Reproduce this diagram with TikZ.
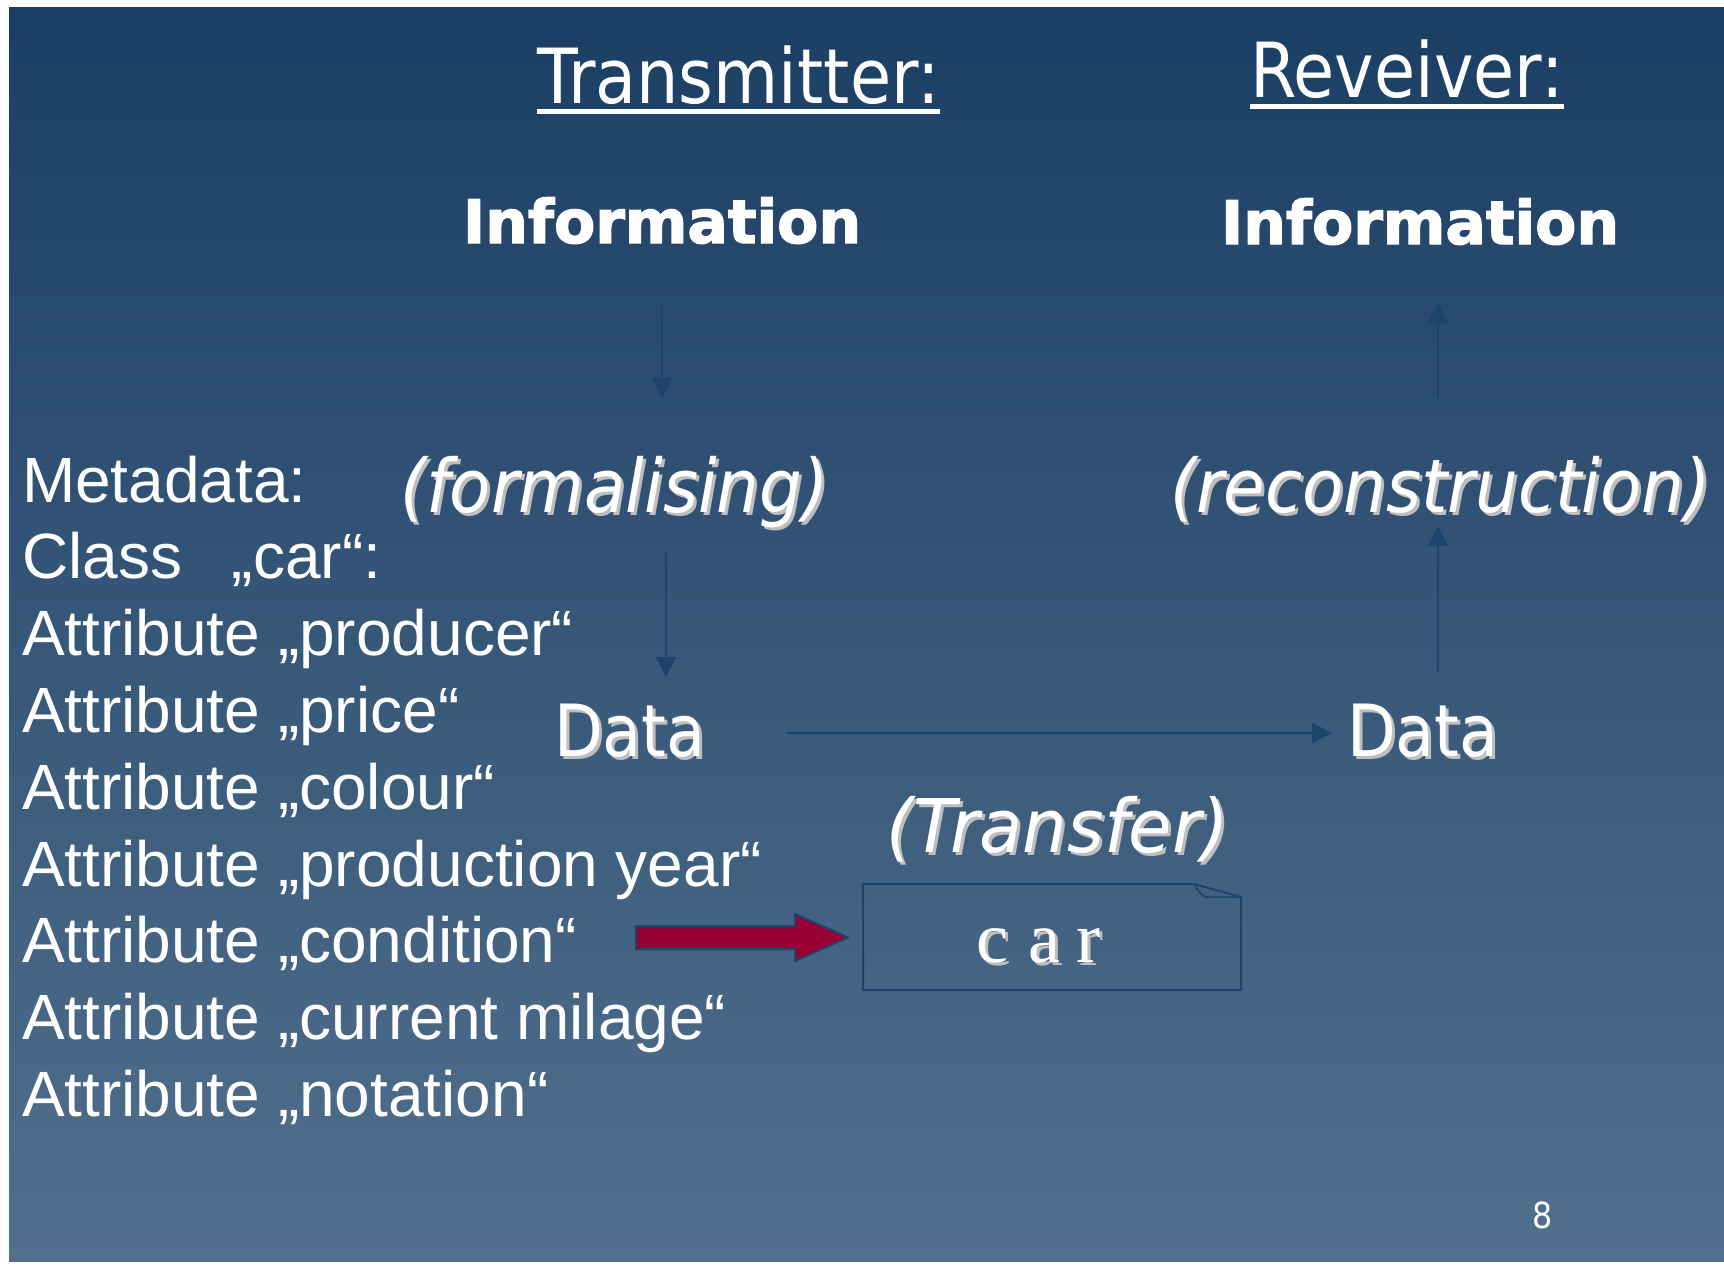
\documentclass[tikz,border=0pt]{standalone}
\usepackage{fontspec}
\setmainfont{Liberation Sans}
\newfontfamily\tahfont[FakeStretch=0.88]{DejaVu Sans}
\newfontfamily\tahitfont[FakeStretch=0.91]{DejaVu Sans}
\newfontfamily\tahwidefont[FakeStretch=0.95]{DejaVu Sans}
\newfontfamily\infofont{DejaVuSans-Bold.ttf}[FakeBold=2.2]
\newfontfamily\serfont{Liberation Serif}
\usetikzlibrary{arrows.meta}
\definecolor{bgtop}{RGB}{27,62,100}
\definecolor{bgbot}{RGB}{82,112,141}
\definecolor{linkblue}{RGB}{28,68,108}
\definecolor{wine}{RGB}{153,0,51}
\definecolor{shadowgray}{RGB}{190,190,190}

\begin{document}
\begin{tikzpicture}[x=1pt,y=-1pt,
  every node/.style={inner sep=0pt, outer sep=0pt},
  heading/.style={text=white, font=\tahfont\fontsize{76}{80}\selectfont, anchor=base west},
  infotext/.style={text=white, font=\infofont\fontsize{60}{66}\selectfont, anchor=base},
  stagetext/.style={font=\tahitfont\itshape\fontsize{74}{80}\selectfont, anchor=base west},
  widestage/.style={font=\tahwidefont\itshape\fontsize{74}{80}\selectfont, anchor=base west},
  datatext/.style={font=\tahfont\fontsize{72}{80}\selectfont, anchor=base west},
  cartext/.style={font=\serfont\fontsize{72}{80}\selectfont, anchor=base west},
  lighttext/.style={text=white},
  shadowtext/.style={text=shadowgray},
  listtext/.style={text=white, font=\fontsize{64}{76}\selectfont, anchor=base west},
  flow/.style={draw=linkblue, line width=2pt, -{Triangle[length=20pt,width=20pt]}},
]
% canvas and slide background
\useasboundingbox (0,0) rectangle (1724,1266);
\fill[white] (0,0) rectangle (1724,1266);
\shade[top color=bgtop, bottom color=bgbot] (9,7) rectangle (1724,1261);

% column headings
\node[heading] (tx) at (537,103) {Transmitter:};
\fill[white] ([yshift=-6pt]tx.base west) rectangle ([yshift=-11pt]tx.base east);
\node[heading] (rx) at (1250,97) {Reveiver:};
\fill[white] ([yshift=-7pt]rx.base west) rectangle ([yshift=-12pt]rx.base east);

% information level
\node[infotext] (infoL) at (662,243) {Information};
\node[infotext] (infoR) at (1420,244) {Information};

% processing steps
\node[stagetext, shadowtext] (formS) at (403,515) {(formalising)};
\node[stagetext, lighttext] (form) at (400,512) {(formalising)};
\node[stagetext, shadowtext] (reconS) at (1173,515) {(reconstruction)};
\node[stagetext, lighttext] (recon) at (1170,512) {(reconstruction)};
\node[widestage, shadowtext] (transS) at (889,855) {(Transfer)};
\node[widestage, lighttext] (trans) at (886,852) {(Transfer)};

% data level
\node[datatext, shadowtext] (dataLS) at (557,759) {Data};
\node[datatext, lighttext] (dataL) at (554,756) {Data};
\node[datatext, shadowtext] (dataRS) at (1350,759) {Data};
\node[datatext, lighttext] (dataR) at (1347,756) {Data};

% metadata listing
\foreach \txt [count=\i from 0] in {Metadata:, Class\hspace{50pt}„car“:, Attribute „producer“, Attribute „price“, Attribute „colour“, Attribute „production year“, Attribute „condition“, Attribute „current milage“, Attribute „notation“}
  \node[listtext] (meta\i) at (22,{502+76.8*\i}) {\txt};

% flow arrows
\coordinate (a1s) at (662,302); \coordinate (a1e) at (662,398);
\coordinate (a2s) at (666,552); \coordinate (a2e) at (666,677);
\coordinate (a3s) at (787,733); \coordinate (a3e) at (1332,733);
\coordinate (a4s) at (1438,671); \coordinate (a4e) at (1438,526);
\coordinate (a5s) at (1438,398); \coordinate (a5e) at (1438,303);
\draw[flow] (a1s) -- (a1e);
\draw[flow] (a2s) -- (a2e);
\draw[flow] (a3s) -- (a3e);
\draw[flow] (a4s) -- (a4e);
\draw[flow] (a5s) -- (a5e);

% document box with folded corner
\draw[linkblue, line width=2pt, line join=miter]
  (863,884) -- (1194,884) -- (1241,897) -- (1241,990) -- (863,990) -- cycle;
\draw[linkblue, line width=1.5pt]
  (1194,884) .. controls (1199,892) .. (1205,897) -- (1241,897);
\node[cartext, shadowtext] (carS) at (979,965) {c\hspace{21pt}a\hspace{16pt}r};
\node[cartext, lighttext] (car) at (976,962) {c\hspace{21pt}a\hspace{16pt}r};

% instance arrow
\filldraw[fill=wine, draw=linkblue, line width=2pt, line join=miter]
  (636,926) -- (795,926) -- (795,914) -- (848,937.5) -- (795,961) -- (795,949) -- (636,949) -- cycle;

% page number
\node[text=white, font=\tahfont\fontsize{36}{40}\selectfont, anchor=base west] (pg) at (1532,1228) {8};
\end{tikzpicture}
\end{document}
